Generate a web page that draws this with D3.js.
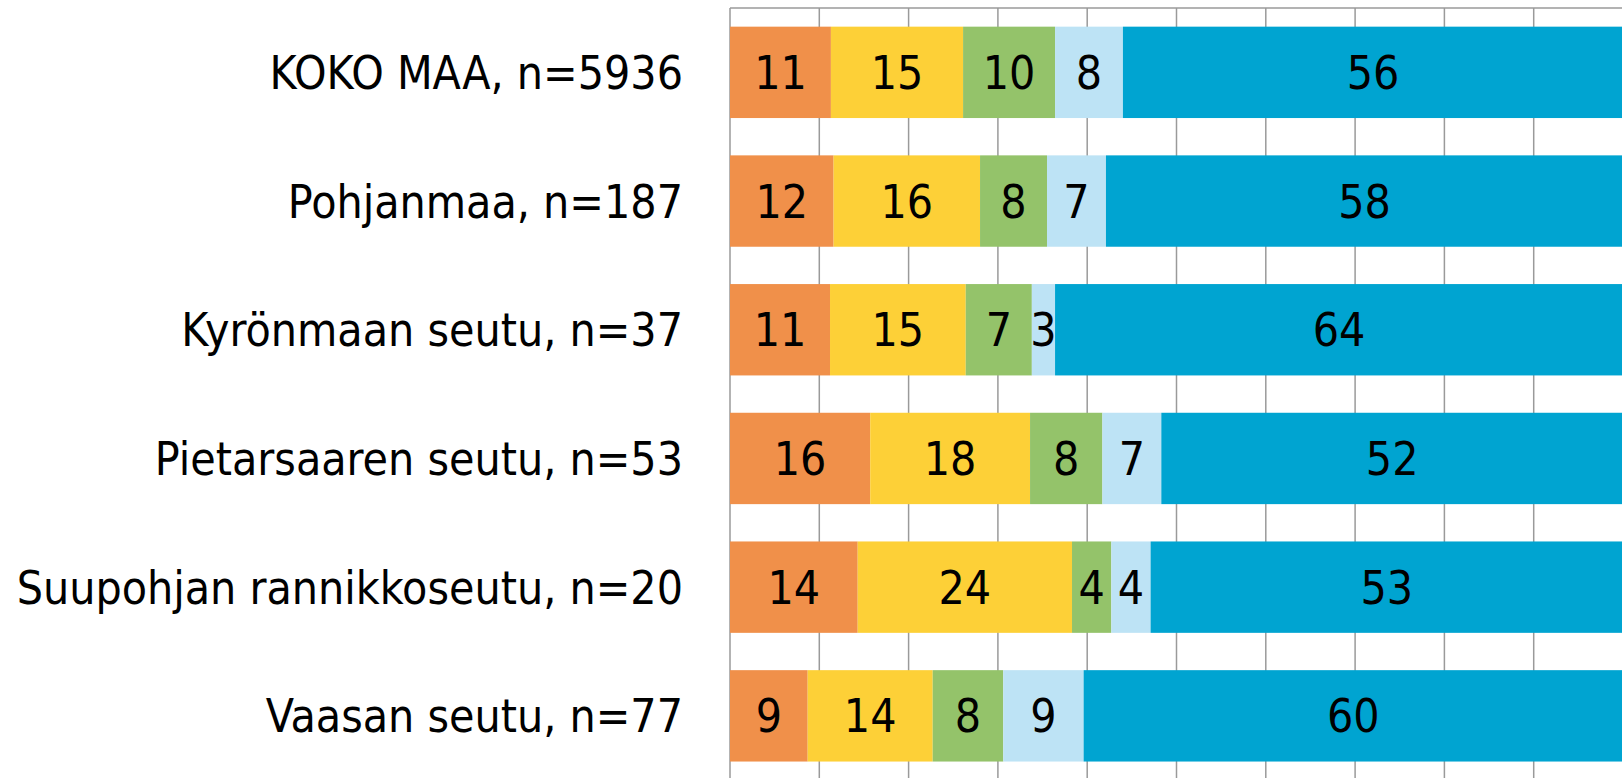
<!DOCTYPE html>
<html>
<head>
<meta charset="utf-8">
<script src="https://cdn.jsdelivr.net/npm/d3@7"></script>
<style>
  html, body { margin: 0; padding: 0; background: #fff; overflow: hidden; }
  svg { display: block; }
  text { font-family: "DejaVu Sans Condensed", "DejaVu Sans", sans-serif; fill: #000; }
</style>
</head>
<body>
<svg id="chart"></svg>
<script>
// Regions (top to bottom)
const categories = [
  "KOKO MAA, n=5936",
  "Pohjanmaa, n=187",
  "Kyrönmaan seutu, n=37",
  "Pietarsaaren seutu, n=53",
  "Suupohjan rannikkoseutu, n=20",
  "Vaasan seutu, n=77"
];

// Series shares (%) per region
const seriesKeys = ["s1", "s2", "s3", "s4", "s5"];
const s1 = [11.3, 11.6, 11.2, 15.7, 14.3, 8.7];
const s2 = [14.8, 16.4, 15.2, 17.9, 24.0, 14.0];
const s3 = [10.3, 7.5, 7.4, 8.1, 4.4, 7.9];
const s4 = [7.6, 6.6, 2.6, 6.6, 4.4, 9.0];
const s5 = [56.0, 57.9, 63.6, 51.7, 52.9, 60.4];

const colors = ["#f0904a", "#fdd037", "#94c36a", "#bde3f5", "#00a4d1"];
const xTicks = [0, 10, 20, 30, 40, 50, 60, 70, 80, 90, 100];

const width = 1622;
const height = 778;
const margin = { top: 8, left: 730 };

const svg = d3.select("#chart").attr("width", width).attr("height", height);

const rows = categories.map((c, i) => ({
  label: c, s1: s1[i], s2: s2[i], s3: s3[i], s4: s4[i], s5: s5[i]
}));

const x = d3.scaleLinear().domain([0, 100]).range([margin.left, 1623]);
const y = d3.scaleBand()
  .domain(categories)
  .range([margin.top, margin.top + 6 * 128.7])
  .paddingInner(0.29)
  .paddingOuter(0.145);

// Gridlines
svg.append("g")
  .selectAll("line")
  .data(xTicks)
  .join("line")
  .attr("x1", d => x(d))
  .attr("x2", d => x(d))
  .attr("y1", margin.top)
  .attr("y2", height)
  .attr("stroke", "#9a9a9a")
  .attr("stroke-width", 1.5);

// Top border of plot area
svg.append("line")
  .attr("x1", x(0)).attr("x2", width)
  .attr("y1", margin.top).attr("y2", margin.top)
  .attr("stroke", "#9a9a9a")
  .attr("stroke-width", 1.5);

const stacked = d3.stack().keys(seriesKeys)(rows);

const layers = svg.append("g")
  .selectAll("g")
  .data(stacked)
  .join("g")
  .attr("fill", (d, i) => colors[i]);

layers.selectAll("rect")
  .data(d => d)
  .join("rect")
  .attr("x", d => x(d[0]))
  .attr("y", d => y(d.data.label))
  .attr("width", d => x(d[1]) - x(d[0]))
  .attr("height", y.bandwidth());

// Value labels
layers.selectAll("text")
  .data(d => d)
  .join("text")
  .attr("x", d => (x(d[0]) + x(d[1])) / 2)
  .attr("y", d => y(d.data.label) + y.bandwidth() / 2)
  .attr("dy", "0.36em")
  .attr("text-anchor", "middle")
  .attr("font-size", 46)
  .text(d => Math.round(d[1] - d[0]));

// Category labels
svg.append("g")
  .selectAll("text")
  .data(categories)
  .join("text")
  .attr("x", 683)
  .attr("y", d => y(d) + y.bandwidth() / 2)
  .attr("dy", "0.36em")
  .attr("text-anchor", "end")
  .attr("font-size", 46)
  .text(d => d);
</script>
</body>
</html>
